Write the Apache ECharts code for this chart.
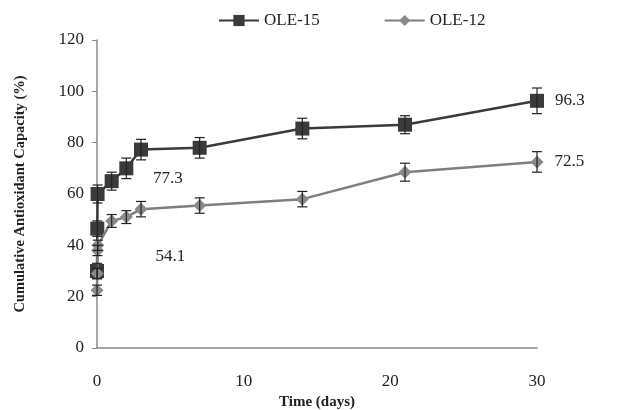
<!DOCTYPE html>
<html>
<head>
<meta charset="utf-8">
<script src="https://cdn.jsdelivr.net/npm/echarts@6/dist/echarts.min.js"></script>
<style>
  html, body { margin: 0; padding: 0; background: #fff; }
  #chart { width: 631px; height: 410px; }
</style>
</head>
<body>
<div id="chart"></div>
<script>
// time points (days) and values
const days15 = [0, 0.02, 0.04, 1, 2, 3, 7, 14, 21, 30];
const ole15 = [30, 46.5, 60, 65, 70, 77.3, 78, 85.5, 87, 96.3];
const err15 = [3, 3, 3.5, 3.5, 4, 4, 4, 4, 3.5, 5];
const labels15 = [5, 9];   // indexes that show their value

const days12 = [0, 0.02, 0.04, 0.06, 1, 2, 3, 7, 14, 21, 30];
const ole12 = [22.5, 29, 38, 40, 49.5, 51, 54.1, 55.5, 58, 68.5, 72.5];
const err12 = [2, 2, 2, 2, 2.5, 2.5, 3, 3, 3, 3.5, 4];
const labels12 = [6, 10];

const xTicks = [0, 10, 20, 30];
const yTicks = [0, 20, 40, 60, 80, 100, 120];

function pointData(xs, ys, lbl, offset) {
  return xs.map((x, i) => {
    const d = { value: [x, ys[i]] };
    if (lbl.indexOf(i) >= 0) {
      const last = i === xs.length - 1;
      d.label = {
        show: true,
        position: last ? 'right' : 'insideTopLeft',
        offset: last ? [6, 0] : offset,
        formatter: String(ys[i]),
        fontFamily: 'Liberation Serif',
        fontSize: 17,
        color: '#222'
      };
    }
    return d;
  });
}

function errData(xs, ys, es) {
  return xs.map((x, i) => [x, ys[i] - es[i], ys[i] + es[i]]);
}

function errItem(params, api) {
  const lo = api.coord([api.value(0), api.value(1)]);
  const hi = api.coord([api.value(0), api.value(2)]);
  const w = 5;
  const st = { stroke: '#222', lineWidth: 1.2 };
  return {
    type: 'group',
    children: [
      { type: 'line', shape: { x1: lo[0], y1: lo[1], x2: hi[0], y2: hi[1] }, style: st },
      { type: 'line', shape: { x1: lo[0] - w, y1: lo[1], x2: lo[0] + w, y2: lo[1] }, style: st },
      { type: 'line', shape: { x1: hi[0] - w, y1: hi[1], x2: hi[0] + w, y2: hi[1] }, style: st }
    ]
  };
}

const chart = echarts.init(document.getElementById('chart'));
chart.setOption({
  animation: false,
  textStyle: { fontFamily: 'Liberation Serif' },
  legend: {
    top: 7,
    left: 213,
    itemGap: 64,
    itemWidth: 40,
    itemHeight: 14,
    textStyle: { fontFamily: 'Liberation Serif', fontSize: 17, color: '#222' },
    data: ['OLE-15', 'OLE-12']
  },
  grid: { left: 97, right: 94, top: 40, bottom: 62, outerBoundsMode: 'none', containLabel: false },
  xAxis: {
    type: 'value',
    min: 0, max: 30, interval: 10,
    name: 'Time (days)',
    nameLocation: 'middle',
    nameGap: 42,
    nameTextStyle: { fontFamily: 'Liberation Serif', fontWeight: 'bold', fontSize: 15, color: '#222' },
    axisLine: { lineStyle: { color: '#888', width: 1.5 } },
    axisTick: { show: false },
    splitLine: { show: false },
    axisLabel: {
      fontSize: 17, color: '#222', margin: 25,
      customValues: xTicks
    }
  },
  yAxis: {
    type: 'value',
    min: 0, max: 120, interval: 20,
    name: 'Cumulative Antioxidant Capacity (%)',
    nameLocation: 'middle',
    nameGap: 69,
    nameTextStyle: { fontFamily: 'Liberation Serif', fontWeight: 'bold', fontSize: 14.5, color: '#222' },
    axisLine: { show: true, lineStyle: { color: '#888', width: 1.5 } },
    axisTick: { show: true, length: 5, lineStyle: { color: '#888' } },
    splitLine: { show: false },
    axisLabel: { fontSize: 17, color: '#222', margin: 13, customValues: yTicks }
  },
  series: [
    {
      name: 'OLE-15',
      type: 'line',
      data: pointData(days15, ole15, labels15, [14, 22]),
      symbol: 'rect',
      symbolSize: 14,
      lineStyle: { color: '#3a3a3a', width: 2.5 },
      itemStyle: { color: '#3a3a3a' },
      z: 3
    },
    {
      name: 'OLE-12',
      type: 'line',
      data: pointData(days12, ole12, labels12, [16, 40]),
      symbol: 'diamond',
      symbolSize: 13,
      lineStyle: { color: '#7f7f7f', width: 2.5 },
      itemStyle: { color: '#8a8a8a' },
      z: 4
    },
    {
      type: 'custom',
      renderItem: errItem,
      data: errData(days15, ole15, err15),
      z: 5,
      silent: true
    },
    {
      type: 'custom',
      renderItem: errItem,
      data: errData(days12, ole12, err12),
      z: 5,
      silent: true
    }
  ]
});
</script>
</body>
</html>
